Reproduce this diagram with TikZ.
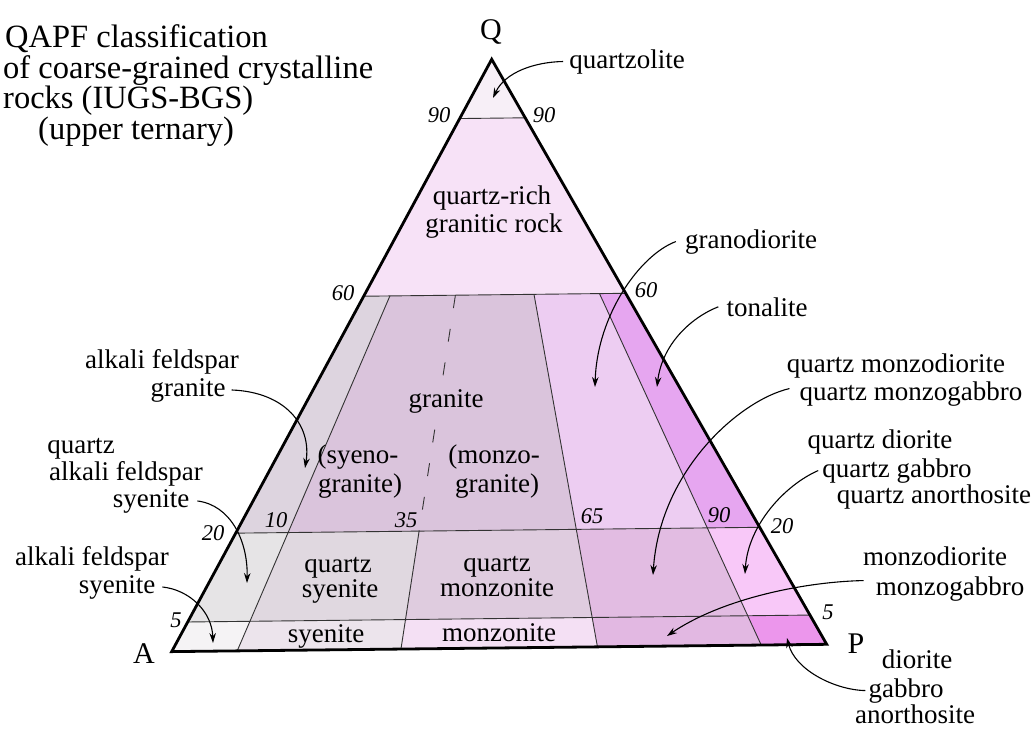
\documentclass[tikz,border=0pt]{standalone}
\usepackage{fontspec}
\setmainfont{Liberation Serif}
\usetikzlibrary{calc,arrows.meta}
\definecolor{cQz}{HTML}{F7EFF7}
\definecolor{cQr}{HTML}{F7E2F7}
\definecolor{cAfg}{HTML}{DDD4DF}
\definecolor{cGr}{HTML}{DAC4DC}
\definecolor{cGd}{HTML}{EDCDF2}
\definecolor{cTo}{HTML}{E6A6F0}
\definecolor{cQafs}{HTML}{E6E4E6}
\definecolor{cQs}{HTML}{E0D8E0}
\definecolor{cQm}{HTML}{DFCCDF}
\definecolor{cQmd}{HTML}{E2BCE2}
\definecolor{cQd}{HTML}{F8C8F8}
\definecolor{cAfs}{HTML}{F5F3F5}
\definecolor{cSy}{HTML}{ECE4EC}
\definecolor{cMz}{HTML}{F4E0F4}
\definecolor{cMd}{HTML}{E2B8E2}
\definecolor{cDi}{HTML}{EC96EC}
\begin{document}
\begin{tikzpicture}[x=1pt,y=-1pt,
  lbl/.style={font=\fontsize{27}{29}\selectfont, inner sep=0pt, anchor=base},
  ttl/.style={font=\fontsize{32.5}{33}\selectfont, inner sep=0pt, anchor=base west},
  num/.style={font=\fontsize{22.5}{23}\selectfont\itshape, inner sep=0pt, anchor=base},
  vtx/.style={font=\fontsize{30}{30}\selectfont, inner sep=0pt, anchor=base},
  arr/.style={line width=1.1pt, -{Stealth[length=10pt,width=6.5pt]}},
  divline/.style={line width=0.9pt, black!80},
  border/.style={line width=2.8pt, line join=miter},
]
\useasboundingbox[fill=white] (0,0) rectangle (1036,729);
\coordinate (Q) at (491.7,59.3);
\coordinate (A) at (171.7,651.6);
\coordinate (P) at (826.7,644.3);
\foreach \p/\f in {0/0,10/0.1,35/0.35,65/0.65,90/0.9,100/1}{
  \coordinate (b\p) at ($(A)!\f!(P)$);
  \foreach \L/\t in {90/0.1,60/0.4,20/0.8,5/0.95,0/1}{
    \coordinate (c\L p\p) at ($(Q)!\t!(b\p)$);
  }
}
% fields
\fill[cQz] (Q) -- (c90p0) -- (c90p100) -- cycle;
\fill[cQr] (c90p0) -- (c90p100) -- (c60p100) -- (c60p0) -- cycle;
\fill[cAfg] (c60p0) -- (c60p10) -- (c20p10) -- (c20p0) -- cycle;
\fill[cGr] (c60p10) -- (c60p65) -- (c20p65) -- (c20p10) -- cycle;
\fill[cGd] (c60p65) -- (c60p90) -- (c20p90) -- (c20p65) -- cycle;
\fill[cTo] (c60p90) -- (c60p100) -- (c20p100) -- (c20p90) -- cycle;
\fill[cQafs] (c20p0) -- (c20p10) -- (c5p10) -- (c5p0) -- cycle;
\fill[cQs] (c20p10) -- (c20p35) -- (c5p35) -- (c5p10) -- cycle;
\fill[cQm] (c20p35) -- (c20p65) -- (c5p65) -- (c5p35) -- cycle;
\fill[cQmd] (c20p65) -- (c20p90) -- (c5p90) -- (c5p65) -- cycle;
\fill[cQd] (c20p90) -- (c20p100) -- (c5p100) -- (c5p90) -- cycle;
\fill[cAfs] (c5p0) -- (c5p10) -- (c0p10) -- (c0p0) -- cycle;
\fill[cSy] (c5p10) -- (c5p35) -- (c0p35) -- (c0p10) -- cycle;
\fill[cMz] (c5p35) -- (c5p65) -- (c0p65) -- (c0p35) -- cycle;
\fill[cMd] (c5p65) -- (c5p90) -- (c0p90) -- (c0p65) -- cycle;
\fill[cDi] (c5p90) -- (c5p100) -- (c0p100) -- (c0p90) -- cycle;
% dividing lines
\draw[divline] (c90p0) -- (c90p100);
\draw[divline] (c60p0) -- (c60p100);
\draw[divline] (c20p0) -- (c20p100);
\draw[divline] (c5p0) -- (c5p100);
\draw[divline] (c60p10) -- (c0p10);
\draw[divline, dash pattern=on 13pt off 21pt] (c60p35) -- (c20p35);
\draw[divline] (c20p35) -- (c0p35);
\draw[divline] (c60p65) -- (c0p65);
\draw[divline] (c60p90) -- (c0p90);
% border
\draw[border] (Q) -- (A) -- (P) -- cycle;
% vertex labels
\node[vtx] (vQ) at (491,39) {Q};
\node[vtx] (vA) at (144,663) {A};
\node[vtx] (vP) at (856,653) {P};
% numbers
\node[num] (n90l) at (439,122) {90};
\node[num] (n90r) at (544,122) {90};
\node[num] (n60l) at (343,300) {60};
\node[num] (n60r) at (646,297) {60};
\node[num] (n20l) at (213,540) {20};
\node[num] (n20r) at (782,533) {20};
\node[num] (n5l) at (176,627) {5};
\node[num] (n5r) at (828,619) {5};
\node[num] (n10) at (276,527) {10};
\node[num] (n35) at (406,527) {35};
\node[num] (n65) at (592,523) {65};
\node[num] (n90i) at (719,522) {90};
% title
\node[ttl] (t1) at (5,47) {QAPF classification};
\node[ttl] (t2) at (3,78) {of coarse-grained crystalline};
\node[ttl] (t3) at (3,108) {rocks (IUGS-BGS)};
\node[ttl] (t4) at (38,139) {(upper ternary)};
% interior labels
\node[lbl] (qr1) at (492,204) {quartz-rich};
\node[lbl] (qr2) at (494,232) {granitic rock};
\node[lbl, fill=cGr, inner sep=2pt] (gr) at (446,407) {granite};
\node[lbl] (sg1) at (358,463) {(syeno-};
\node[lbl] (sg2) at (360,492) {granite)};
\node[lbl] (mg1) at (494,463) {(monzo-};
\node[lbl] (mg2) at (497,492) {granite)};
\node[lbl] (qs1) at (338,572) {quartz};
\node[lbl] (qs2) at (340,597) {syenite};
\node[lbl] (qm1) at (497,571) {quartz};
\node[lbl] (qm2) at (497,596) {monzonite};
\node[lbl] (sy) at (326,642) {syenite};
\node[lbl] (mz) at (499,641) {monzonite};
% outer labels
\node[lbl] (lq) at (627,68) {quartzolite};
\node[lbl] (lgd) at (751,248) {granodiorite};
\node[lbl] (lt) at (767,316) {tonalite};
\node[lbl] (lqm1) at (896,372) {quartz monzodiorite};
\node[lbl] (lqm2) at (911,400) {quartz monzogabbro};
\node[lbl] (lqd1) at (880,448) {quartz diorite};
\node[lbl] (lqd2) at (897,477) {quartz gabbro};
\node[lbl] (lqd3) at (934,503) {quartz anorthosite};
\node[lbl] (lmd1) at (935,565) {monzodiorite};
\node[lbl] (lmd2) at (950,595) {monzogabbro};
\node[lbl] (ldi1) at (917,668) {diorite};
\node[lbl] (ldi2) at (906,697) {gabbro};
\node[lbl] (ldi3) at (915,723) {anorthosite};
\node[lbl] (lag1) at (162,368) {alkali feldspar};
\node[lbl] (lag2) at (188,396) {granite};
\node[lbl] (lqa1) at (81,453) {quartz};
\node[lbl] (lqa2) at (126,480) {alkali feldspar};
\node[lbl] (lqa3) at (151,507) {syenite};
\node[lbl] (las1) at (92,565) {alkali feldspar};
\node[lbl] (las2) at (117,593) {syenite};
% arrow tips
\coordinate (tq) at (493,98);
\coordinate (tgd) at (595,387);
\coordinate (tt) at (657,387);
\coordinate (tqm) at (653,575);
\coordinate (tqd) at (745,574);
\coordinate (tmd) at (667,636);
\coordinate (tdi) at (787,638);
\coordinate (tag) at (305,468);
\coordinate (tqa) at (247,583);
\coordinate (tas) at (213,643);
% arrows
\draw[arr] ([xshift=-6pt]lq.west) .. controls (535,62) and (505,72) .. (tq);
\draw[arr] ([xshift=-9pt]lgd.west) .. controls (640,255) and (597,315) .. (tgd);
\draw[arr] ([xshift=-8pt]lt.west) .. controls (690,318) and (662,345) .. (tt);
\draw[arr] ([xshift=-10pt,yshift=5pt]lqm2.west) .. controls (740,400) and (660,470) .. (tqm);
\draw[arr] ([xshift=-4pt]lqd2.west) .. controls (785,485) and (748,525) .. (tqd);
\draw[arr] ([xshift=-12pt,yshift=8pt]lmd2.west) .. controls (800,582) and (720,600) .. (tmd);
\draw[arr] ([xshift=-3pt]ldi2.west) .. controls (835,690) and (795,670) .. (tdi);
\draw[arr] ([xshift=6pt]lag2.east) .. controls (285,392) and (312,425) .. (tag);
\draw[arr] ([xshift=8pt]lqa3.east) .. controls (230,505) and (248,540) .. (tqa);
\draw[arr] ([xshift=7pt]las2.east) .. controls (190,590) and (212,612) .. (tas);
\end{tikzpicture}
\end{document}
